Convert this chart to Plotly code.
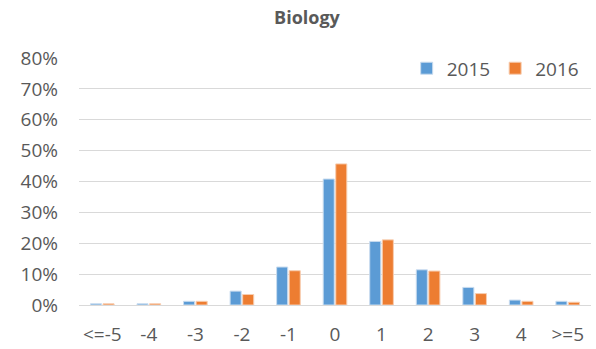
import plotly.graph_objects as go

categories = ["<=-5", "-4", "-3", "-2", "-1", "0", "1", "2", "3", "4", ">=5"]
share_2015 = [0.4, 0.4, 1.2, 4.5, 12.3, 40.8, 20.6, 11.4, 5.7, 1.6, 1.2]
share_2016 = [0.4, 0.4, 1.2, 3.4, 11.1, 45.7, 21.1, 11.0, 3.7, 1.2, 0.9]
y_ticks = [0, 10, 20, 30, 40, 50, 60, 70, 80]

font_family = "Open Sans, Liberation Sans, sans-serif"
text_color = "#595959"

fig = go.Figure()
fig.add_trace(go.Bar(
    name="2015", x=categories, y=share_2015,
    marker=dict(color="#5B9BD5", line=dict(color="#c9dcef", width=1)),
))
fig.add_trace(go.Bar(
    name="2016", x=categories, y=share_2016,
    marker=dict(color="#ED7D31", line=dict(color="#f7cdb0", width=1)),
))

fig.update_layout(
    width=596, height=349,
    margin=dict(l=79, r=5, t=58, b=44),
    paper_bgcolor="white", plot_bgcolor="white",
    barmode="group", bargap=0.46, bargroupgap=0.12,
    font=dict(family=font_family, color=text_color, size=19),
    title=dict(text="<b>Biology</b>", x=0.515, xanchor="center", y=0.95, yanchor="middle",
               font=dict(size=18, color=text_color, family=font_family)),
    legend=dict(orientation="h", x=0.64, xanchor="left", y=1.035, yanchor="top",
                font=dict(size=19, color=text_color), bgcolor="rgba(0,0,0,0)",
                itemwidth=30, traceorder="normal"),
    showlegend=True,
)
fig.update_xaxes(showgrid=False, showline=False, ticks="", tickfont=dict(size=19),
                 ticklabelstandoff=16, automargin=False)
fig.update_yaxes(range=[0, 80], tickvals=y_ticks, ticktext=[f"{v}%" for v in y_ticks],
                 showgrid=True, gridcolor="#d9d9d9", gridwidth=1, zeroline=True,
                 zerolinecolor="#d9d9d9", zerolinewidth=1, showline=False, ticks="",
                 tickfont=dict(size=19), ticklabelstandoff=20, automargin=False)

fig.write_html("out.html")
